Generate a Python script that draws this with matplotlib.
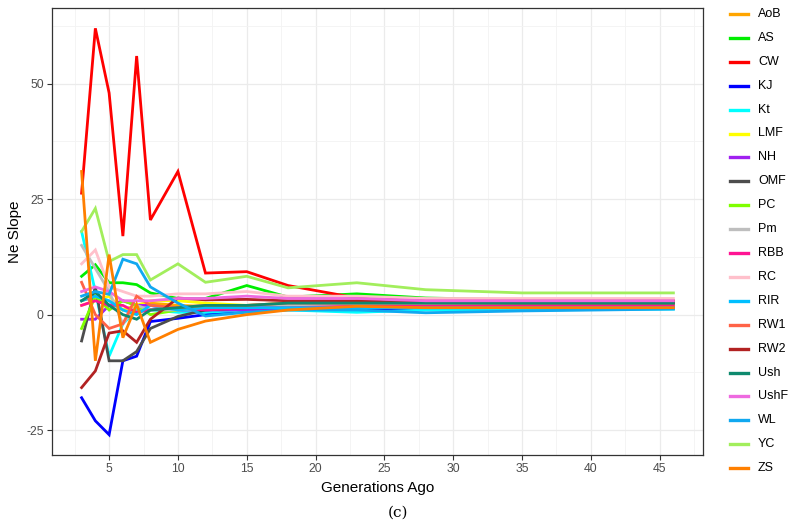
import numpy as np
import matplotlib.pyplot as plt
from matplotlib.lines import Line2D

plt.rcParams['font.family'] = ['Liberation Sans', 'DejaVu Sans']
plt.rcParams['axes.unicode_minus'] = False

# generations at which the slope was estimated
gens = [3, 4, 5, 6, 7, 8, 10, 12, 15, 18, 23, 28, 35, 46]

# Ne slope per population
AoB  = [3, 4, 2, 1, 2, 2.5, 2, 1.8, 1.5, 1.8, 2, 2, 2, 2]
AS   = [8.3, 10.8, 6.9, 6.9, 6.5, 4.7, 3.5, 3.5, 6.3, 3.8, 4.5, 3.6, 3.2, 3.0]
CW   = [26.3, 62, 48, 17, 56, 20.5, 31, 9, 9.3, 6.3, 3.6, 3.3, 3.0, 3.0]
KJ   = [-18, -23, -26, -10, -9, -1.5, -0.8, 0, 0.9, 1.2, 1.3, 1.2, 1.3, 1.4]
Kt   = [18, 5, -9, -2, 1, 1, 0.5, 0.5, 1, 1, 0.5, 1, 1, 1.2]
LMF  = [2, 3, 4, 1, 2, 3, 3, 2.5, 2, 2.5, 2.5, 2.5, 2.5, 2.5]
NH   = [-1, -1, 2, 3, 2, 2, 1, 1, 1, 1.5, 1.5, 1.5, 1.5, 1.5]
OMF  = [-5.7, 6, -10, -10, -8, -3, -0.4, 1, 1.5, 1.5, 1.8, 1.8, 1.8, 1.8]
PC   = [-3, 4, 1, 3, 2, 0, 1, 1.5, 1.5, 2, 2, 2, 2, 2]
Pm   = [15, 10, 5, -2, 2, 1, 1, 1.5, 2, 2, 2, 2, 2, 2]
RBB  = [2, 3, 2, 2, 0.5, 1, 1.5, 1, 1.5, 1.5, 1.8, 1.8, 1.8, 1.8]
RC   = [11, 14, 6, 5, 4, 4, 4.5, 4.5, 5, 4, 4, 3.5, 3.5, 3.5]
RIR  = [3, 4, 3, 1, 0, 2, 1, 1.5, 1.5, 1.5, 1.5, 1.5, 1.5, 1.5]
RW1  = [7, 0, -3, -2, 4, 2, 1.5, 2, 2, 2.5, 2.5, 2.5, 2.5, 2.5]
RW2  = [-15.8, -12.2, -4, -3.5, -6, -1, 3.6, 3.2, 3.3, 3, 3, 2.6, 2.5, 2.5]
Ush  = [3, 5, 2, 0, -1, 1, 1.5, 2, 2, 2.5, 2.5, 2.5, 2.5, 2.5]
UshF = [5, 6, 5, 3, 3, 3, 3.5, 3.5, 4, 3.5, 3.5, 3, 3, 3]
WL   = [4, 5, 4.4, 12, 11, 6, 2.5, -0.3, 0.5, 1, 1, 0.4, 0.8, 1.2]
YC   = [18, 23, 11.5, 13, 13, 7.5, 11, 7, 8.3, 5.8, 6.9, 5.4, 4.7, 4.7]
ZS   = [31, -10, 13, -5, 2.2, -6, -3.2, -1.4, 0, 1, 1.8, 1.5, 1.5, 1.5]

names = ["AoB", "AS", "CW", "KJ", "Kt", "LMF", "NH", "OMF", "PC", "Pm",
         "RBB", "RC", "RIR", "RW1", "RW2", "Ush", "UshF", "WL", "YC", "ZS"]
series = [AoB, AS, CW, KJ, Kt, LMF, NH, OMF, PC, Pm,
          RBB, RC, RIR, RW1, RW2, Ush, UshF, WL, YC, ZS]
colors = ["#FFA500", "#00EE00", "#FF0000", "#0000FF", "#00FFFF", "#FFFF00",
          "#A020F0", "#4D4D4D", "#7FFF00", "#BEBEBE", "#FF1493", "#FFC0CB",
          "#00BFFF", "#FF6347", "#B22222", "#0E8A6E", "#EE6AE0", "#10A8F0",
          "#A2EE5C", "#FF7F00"]

W, H = 791, 527
fig = plt.figure(figsize=(W / 100, H / 100), dpi=100)
ax = fig.add_axes([52 / W, 1 - 455 / H, 651 / W, 447 / H])

for name, vals, c in zip(names, series, colors):
    ax.plot(gens, vals, color=c, lw=2.0, label=name, solid_joinstyle='miter')

ax.set_xlim(0.85, 48.15)
ax.set_ylim(-30.4, 66.4)
ax.set_xticks([5, 10, 15, 20, 25, 30, 35, 40, 45])
ax.set_yticks([-25, 0, 25, 50])
ax.set_xticks(np.arange(2.5, 48, 5), minor=True)
ax.set_yticks([-12.5, 12.5, 37.5, 62.5], minor=True)
ax.grid(which='major', color='#EBEBEB', lw=0.9)
ax.grid(which='minor', color='#F3F3F3', lw=0.6)
ax.set_axisbelow(True)
for s in ax.spines.values():
    s.set_color('#333333')
    s.set_linewidth(0.9)
ax.tick_params(which='major', length=3.5, color='#333333', labelcolor='#4D4D4D',
               labelsize=8.8, width=0.8, pad=2.5)
ax.tick_params(which='minor', length=0)

ax.set_xlabel("Generations Ago", fontsize=11)
ax.set_ylabel("Ne Slope", fontsize=11)
ax.yaxis.set_label_coords(-37 / 651, 0.5 + (231 - 231.5) / 447)
ax.xaxis.set_label_coords(0.5, -33 / 447)
ax.xaxis.label.set_va('center')
ax.yaxis.label.set_va('center')

# legend on the right
y0 = 14
step = 23.9
for i, (name, c) in enumerate(zip(names, colors)):
    yy = 1 - (y0 + i * step) / H
    fig.add_artist(Line2D([730 / W, 748 / W], [yy, yy], color=c, lw=2.4,
                          transform=fig.transFigure))
    fig.text(758 / W, yy, name, fontsize=9, va='center', ha='left')

fig.text(398 / W, 1 - 513 / H, "(c)", fontsize=11, ha='center', va='center',
         family='DejaVu Serif')

fig.savefig("out.png", dpi=100)
